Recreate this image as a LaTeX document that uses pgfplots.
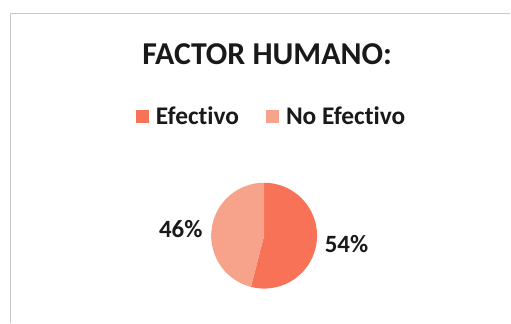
\documentclass[border=0pt]{standalone}
\usepackage{fontspec}
\setmainfont{Carlito}[Ligatures=NoCommon]
\usepackage{pgfplots}
\usepackage{pgfplotstable}
\pgfplotsset{compat=1.18}
\definecolor{efec}{RGB}{248,114,88}
\definecolor{noefec}{RGB}{247,162,138}
\definecolor{frame}{RGB}{200,200,200}
\pgfplotstableread{
label value
Efectivo 54
NoEfectivo 46
}\piedata
\begin{document}
\begin{tikzpicture}
\begin{axis}[
  x=1bp, y=1bp,
  xmin=0, xmax=511, ymin=0, ymax=323,
  hide axis, clip=false,
  /pgf/number format/assume math mode=true,
  legend columns=2,
  legend style={draw=none, fill=none, at={(axis cs:271,206)}, anchor=center,
    font=\fontsize{25.5}{30}\selectfont\bfseries, text=black!90, inner sep=0pt,
    nodes={inner sep=0pt},
    /tikz/every odd column/.append style={column sep=7bp},
    /tikz/every even column/.append style={column sep=27bp}},
  legend image code/.code={\fill[#1] (0bp,-6.5bp) rectangle (13bp,6.5bp);},
]
\path (axis cs:0,0) rectangle (axis cs:511,323);
\pgfplotstablegetelem{0}{value}\of\piedata \let\va\pgfplotsretval
\pgfplotstablegetelem{1}{value}\of\piedata \let\vb\pgfplotsretval
\pgfmathsetmacro{\tot}{\va+\vb}
\pgfmathsetmacro{\angA}{90-(\va/\tot)*360}
\fill[efec] (axis cs:264.5,87) -- ++(90:53bp) arc[start angle=90, end angle=\angA, radius=53bp] -- cycle;
\fill[noefec] (axis cs:264.5,87) -- ++(\angA:53bp) arc[start angle=\angA, end angle=-270, radius=53bp] -- cycle;
\addlegendimage{fill=efec, draw=none}
\addlegendentry{Efectivo}
\addlegendimage{fill=noefec, draw=none}
\addlegendentry{No Efectivo}
\draw[frame, line width=1.5bp] (axis cs:10.5,0) -- (axis cs:10.5,309.5) -- (axis cs:511,309.5);
\node[anchor=base, font=\fontsize{32}{36}\selectfont\bfseries, text=black!90] at (axis cs:267.5,258) {FACTOR HUMANO:};
\node[anchor=base, font=\fontsize{25}{30}\selectfont\bfseries, text=black!90] at (axis cs:181,85) {\pgfmathprintnumber{\vb}\%};
\node[anchor=base, font=\fontsize{25}{30}\selectfont\bfseries, text=black!90] at (axis cs:347,70) {\pgfmathprintnumber{\va}\%};
\end{axis}
\end{tikzpicture}
\end{document}
